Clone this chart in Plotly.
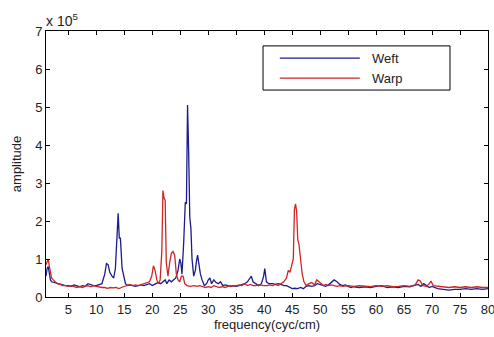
import plotly.graph_objects as go

# Weft series (amplitude in units of 1e5)
weft_x = [1.0,1.2,1.4,1.6,1.8,2.0,2.5,3.0,3.5,4.0,4.5,5.0,5.5,6.0,6.5,7.0,7.5,8.0,8.5,9.0,9.5,10.0,10.5,11.0,11.5,11.8,12.1,12.4,12.8,13.1,13.4,13.7,13.9,14.1,14.3,14.6,14.9,15.2,15.6,16.0,16.5,17.0,17.5,18.0,18.5,19.0,19.5,20.0,20.5,21.0,21.5,22.0,22.3,22.6,23.0,23.4,23.8,24.2,24.6,24.9,25.1,25.3,25.6,25.9,26.1,26.3,26.5,26.7,26.9,27.1,27.4,27.7,27.9,28.1,28.3,28.6,28.9,29.3,29.7,30.0,30.3,30.6,31.0,31.4,31.8,32.2,32.6,33.0,33.5,34.0,34.5,35.0,35.5,36.0,36.5,37.0,37.4,37.7,38.0,38.5,39.0,39.5,39.9,40.1,40.4,40.8,41.5,42.0,42.5,43.0,43.5,44.0,44.5,45.0,45.5,46.0,46.5,47.0,47.5,48.0,48.5,49.0,49.5,50.0,50.5,51.0,51.5,52.0,52.5,53.0,53.5,54.0,54.5,55.0,55.5,56.0,57.0,58.0,59.0,60.0,61.0,62.0,63.0,64.0,65.0,66.0,67.0,67.5,68.0,68.5,69.0,69.5,70.0,71.0,72.0,73.0,74.0,75.0,76.0,77.0,78.0,79.0,80.0]
weft_y = [0.55,0.75,0.8,0.55,0.45,0.4,0.38,0.35,0.33,0.32,0.3,0.3,0.28,0.32,0.3,0.27,0.3,0.28,0.35,0.32,0.3,0.3,0.33,0.35,0.6,0.88,0.85,0.65,0.55,0.5,0.75,1.5,2.2,1.55,1.55,0.75,0.55,0.35,0.3,0.32,0.3,0.28,0.3,0.32,0.3,0.33,0.35,0.3,0.35,0.38,0.35,0.4,0.45,0.35,0.45,0.4,0.45,0.5,0.7,1.0,0.9,0.6,1.4,2.5,2.45,5.05,3.8,2.1,1.8,1.0,0.55,0.7,0.95,1.1,0.9,0.6,0.45,0.3,0.35,0.45,0.5,0.35,0.45,0.38,0.35,0.4,0.3,0.32,0.3,0.28,0.3,0.28,0.3,0.32,0.35,0.4,0.5,0.55,0.4,0.35,0.3,0.35,0.55,0.75,0.4,0.35,0.35,0.33,0.35,0.33,0.3,0.3,0.25,0.22,0.23,0.22,0.25,0.22,0.28,0.3,0.28,0.3,0.35,0.33,0.3,0.28,0.32,0.38,0.45,0.4,0.33,0.3,0.32,0.28,0.25,0.27,0.25,0.27,0.25,0.28,0.3,0.25,0.27,0.25,0.28,0.27,0.3,0.33,0.28,0.35,0.3,0.25,0.28,0.22,0.2,0.18,0.2,0.2,0.22,0.2,0.22,0.2,0.22]

# Warp series (amplitude in units of 1e5)
warp_x = [1.0,1.2,1.4,1.6,1.8,2.0,2.3,2.6,3.0,3.5,4.0,4.5,5.0,5.5,6.0,6.5,7.0,7.5,8.0,8.5,9.0,9.5,10.0,10.5,11.0,11.5,12.0,12.5,13.0,13.5,14.0,14.5,15.0,15.5,16.0,16.5,17.0,17.5,18.0,18.5,19.0,19.5,19.9,20.2,20.5,20.8,21.1,21.4,21.7,21.9,22.1,22.3,22.5,22.8,23.1,23.4,23.7,24.0,24.3,24.6,24.9,25.2,25.5,25.8,26.2,26.8,27.5,28.0,28.5,29.0,29.5,30.0,30.5,31.0,31.5,32.0,32.5,33.0,33.5,34.0,34.5,35.0,35.5,36.0,36.5,37.0,37.5,38.0,38.5,39.0,39.5,40.0,40.5,41.0,41.5,42.0,42.5,43.0,43.5,44.0,44.3,44.6,44.9,45.2,45.4,45.6,45.8,46.0,46.2,46.5,46.8,47.1,47.5,48.0,48.5,49.0,49.4,49.8,50.2,50.6,51.0,51.5,52.0,52.5,53.0,53.5,54.0,55.0,56.0,57.0,58.0,59.0,60.0,61.0,62.0,63.0,64.0,65.0,66.0,67.0,67.5,67.9,68.3,69.0,69.5,69.8,70.2,71.0,72.0,73.0,74.0,75.0,76.0,77.0,78.0,79.0,80.0]
warp_y = [0.85,0.95,1.0,0.8,0.65,0.5,0.45,0.4,0.35,0.33,0.3,0.3,0.28,0.3,0.28,0.25,0.27,0.25,0.28,0.3,0.27,0.3,0.28,0.26,0.25,0.25,0.23,0.25,0.24,0.25,0.22,0.25,0.27,0.3,0.33,0.3,0.32,0.3,0.33,0.35,0.38,0.4,0.55,0.82,0.7,0.45,0.35,0.45,1.2,2.8,2.6,2.55,0.9,0.55,0.9,1.15,1.2,1.1,0.6,0.45,0.4,0.55,0.55,0.35,0.3,0.28,0.3,0.28,0.3,0.28,0.25,0.27,0.25,0.3,0.27,0.25,0.27,0.25,0.28,0.3,0.28,0.3,0.32,0.3,0.35,0.3,0.33,0.3,0.3,0.32,0.3,0.3,0.3,0.32,0.3,0.33,0.3,0.35,0.4,0.5,0.7,0.65,0.8,1.0,2.3,2.45,2.25,1.5,1.4,0.9,0.6,0.4,0.3,0.35,0.38,0.32,0.45,0.4,0.35,0.3,0.33,0.3,0.32,0.3,0.28,0.3,0.28,0.3,0.28,0.3,0.28,0.27,0.3,0.28,0.3,0.27,0.28,0.3,0.28,0.32,0.45,0.42,0.3,0.28,0.35,0.42,0.3,0.28,0.27,0.25,0.27,0.25,0.27,0.25,0.27,0.25,0.25]

x_ticks = list(range(5, 85, 5))
y_ticks = list(range(0, 8))
series_names = ["Weft", "Warp"]
series_colors = ["#1c1c8a", "#cc2626"]

FONT = "Liberation Sans, Arial, sans-serif"

fig = go.Figure()
fig.add_trace(go.Scatter(x=weft_x, y=weft_y, mode="lines", name=series_names[0],
                         line=dict(color=series_colors[0], width=1.3), showlegend=False))
fig.add_trace(go.Scatter(x=warp_x, y=warp_y, mode="lines", name=series_names[1],
                         line=dict(color=series_colors[1], width=1.3), showlegend=False))

axis_common = dict(showline=True, linecolor="black", linewidth=1, mirror="ticks",
                   ticks="inside", ticklen=4, tickcolor="black", showgrid=False,
                   zeroline=False, automargin=False, ticklabeloverflow="allow",
                   tickfont=dict(family=FONT, size=13, color="#222"))

fig.update_xaxes(range=[1, 80], tickvals=x_ticks,
                 title=dict(text="frequency(cyc/cm)", font=dict(family=FONT, size=13, color="#222"), standoff=2),
                 **axis_common)
fig.update_yaxes(range=[0, 7], tickvals=y_ticks,
                 title=dict(text="amplitude", font=dict(family=FONT, size=13, color="#222"), standoff=10),
                 **axis_common)

# legend box drawn in paper coordinates
shapes = [
    dict(type="rect", xref="paper", yref="paper", x0=0.491, x1=0.914, y0=0.778, y1=0.944,
         line=dict(color="black", width=1), fillcolor="white", layer="above"),
    dict(type="line", xref="paper", yref="paper", x0=0.529, x1=0.710, y0=0.898, y1=0.898,
         line=dict(color=series_colors[0], width=1.3), layer="above"),
    dict(type="line", xref="paper", yref="paper", x0=0.529, x1=0.710, y0=0.823, y1=0.823,
         line=dict(color=series_colors[1], width=1.3), layer="above"),
]
annotations = [
    dict(xref="paper", yref="paper", x=0.733, y=0.898, text=series_names[0], showarrow=False,
         xanchor="left", yanchor="middle", font=dict(family=FONT, size=13, color="#222")),
    dict(xref="paper", yref="paper", x=0.733, y=0.823, text=series_names[1], showarrow=False,
         xanchor="left", yanchor="middle", font=dict(family=FONT, size=13, color="#222")),
    dict(xref="paper", yref="paper", x=-0.005, y=1.0, text="x 10<sup>5</sup>", showarrow=False,
         xanchor="left", yanchor="bottom", font=dict(family=FONT, size=14, color="#222")),
]

fig.update_layout(width=494, height=337, margin=dict(l=46, r=6, t=31, b=40, autoexpand=False),
                  plot_bgcolor="white", paper_bgcolor="white",
                  shapes=shapes, annotations=annotations)

fig.write_html("out.html", config={"displayModeBar": False},
               post_script="document.body.style.margin='0';document.body.style.overflow='hidden';")
